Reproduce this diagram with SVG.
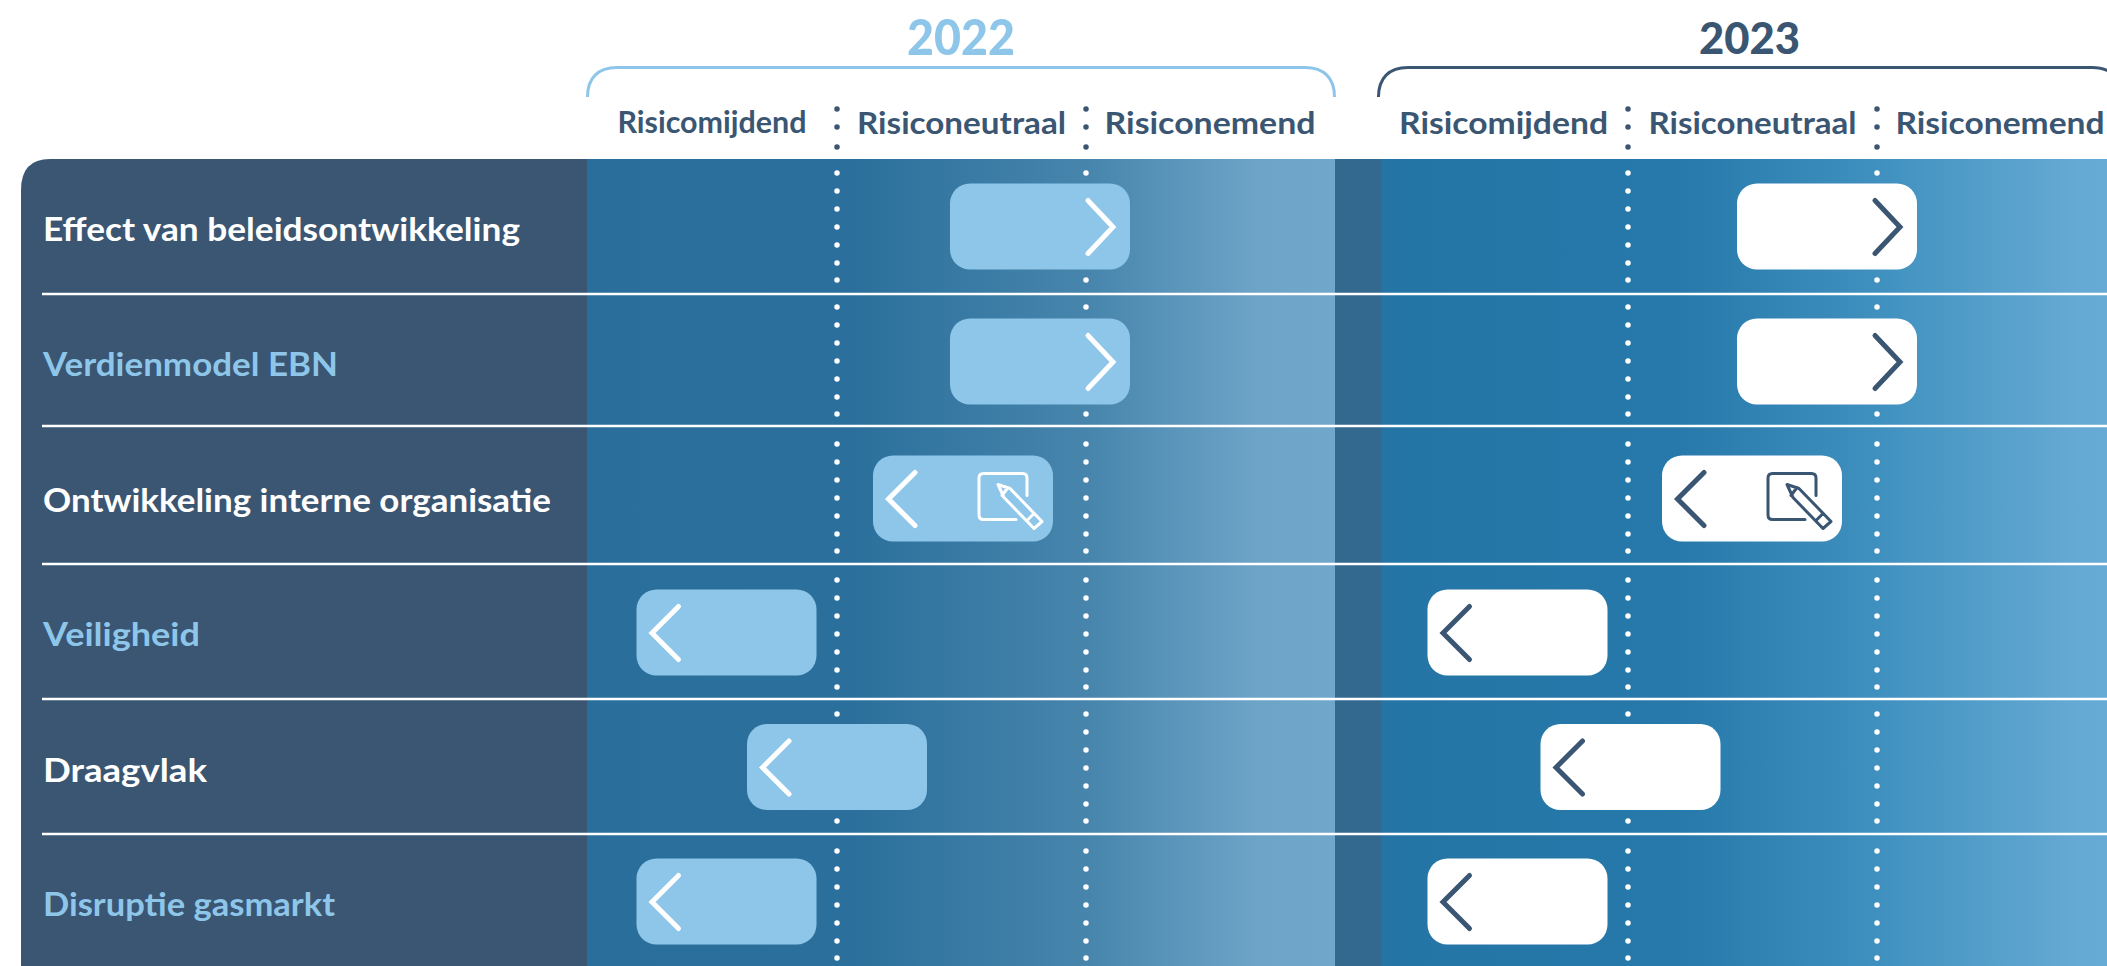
<svg xmlns="http://www.w3.org/2000/svg" width="2107" height="966" viewBox="0 0 2107 966">
<style>
text{font-family:"Lato","Open Sans","Liberation Sans",sans-serif;font-weight:700}
.y{font-size:50px;font-weight:900}
.h{font-size:30px;fill:#3a5672}
.l{font-size:33px}
.w{fill:#fff}
.b{fill:#8ec6ea}
.sep{stroke:#fff;stroke-width:2.5}
.dots{fill:none;stroke:#fff;stroke-width:5.5;stroke-linecap:round}
.dd{fill:none;stroke:#3a5672;stroke-width:5.5;stroke-linecap:round}
.c{fill:none;stroke-width:5;stroke-linecap:round;stroke-linejoin:miter}
.bar22{fill:#8ec6ea}
.bar23{fill:#fff}
.s22{stroke:#fff}
.s23{stroke:#3a5672}
.i{fill:none;stroke-width:3;stroke-linecap:round;stroke-linejoin:round}
</style>
<defs>
<linearGradient id="g22" gradientUnits="userSpaceOnUse" x1="587" y1="0" x2="1335" y2="0">
<stop offset="0" stop-color="#2a6f9b"/><stop offset="0.36" stop-color="#2b709c"/><stop offset="0.67" stop-color="#4785ac"/><stop offset="0.89" stop-color="#6ca3c7"/><stop offset="1" stop-color="#70a7cb"/>
</linearGradient>
<linearGradient id="g23" gradientUnits="userSpaceOnUse" x1="1381" y1="0" x2="2107" y2="0">
<stop offset="0" stop-color="#2475a6"/><stop offset="0.41" stop-color="#2679aa"/><stop offset="0.68" stop-color="#3f90bf"/><stop offset="0.96" stop-color="#65aad4"/><stop offset="1" stop-color="#66abd5"/>
</linearGradient>
<path id="cr" d="M138 17L163 43.500L138 70"/>
<path id="cl" d="M42 17L15.500 43.500L42 70"/>
<g id="ed">
<path d="M154 40V22.500Q154 18 149.500 18H110.500Q106 18 106 22.500V59.500Q106 64 110.500 64H143"/>
<path d="M125 29L137 33L169 66L161 73L131 42ZM135 32L129 40M161 58L154 65"/>
</g>
</defs>
<g id="year-2022">
<text class="y" x="961" y="55" text-anchor="middle" fill="#8ec6ea" textLength="108" lengthAdjust="spacingAndGlyphs">2022</text>
<path d="M587.500 97C587.500 78 598 67.500 617 67.500H1305C1324 67.500 1334.500 78 1334.500 97" fill="none" stroke="#8ec6ea" stroke-width="3"/>
<text class="h" x="617.500" y="133" textLength="189" lengthAdjust="spacingAndGlyphs">Risicomijdend</text>
<text class="h" x="857" y="134" textLength="209" lengthAdjust="spacingAndGlyphs">Risiconeutraal</text>
<text class="h" x="1104.500" y="134" textLength="211" lengthAdjust="spacingAndGlyphs">Risiconemend</text>
</g>
<g id="year-2023">
<text class="y" x="1749.500" y="54" text-anchor="middle" fill="#3a5672" style="font-size:43px" textLength="101" lengthAdjust="spacingAndGlyphs">2023</text>
<path d="M1378.500 97C1378.500 78 1389 67.500 1408 67.500H2092C2111 67.500 2122 78 2122 97" fill="none" stroke="#3a5672" stroke-width="3"/>
<text class="h" x="1399" y="134" textLength="209" lengthAdjust="spacingAndGlyphs">Risicomijdend</text>
<text class="h" x="1648.500" y="134" textLength="208" lengthAdjust="spacingAndGlyphs">Risiconeutraal</text>
<text class="h" x="1895.500" y="134" textLength="209" lengthAdjust="spacingAndGlyphs">Risiconemend</text>
</g>
<g id="header-dots">
<path class="dd" d="M837 109h0M837 127h0M837 147h0M1086 109h0M1086 127h0M1086 147h0M1628 109h0M1628 127h0M1628 147h0M1877 109h0M1877 127h0M1877 147h0"/>
</g>
<g id="bands">
<path d="M587 159H50Q21 159 21 190V966H587Z" fill="#3a5672"/>
<rect x="587" y="159" width="748" height="807" fill="url(#g22)"/>
<rect x="1335" y="159" width="46" height="807" fill="#33688f"/>
<rect x="1381" y="159" width="726" height="807" fill="url(#g23)"/>
</g>
<g id="grid">
<path id="d1" class="dots" d="M837 173h0m0 18h0m0 18h0m0 18h0m0 18h0m0 18h0m0 17h0M837 307h0m0 18h0m0 18h0m0 18h0m0 18h0m0 18h0m0 17h0M837 444h0m0 18h0m0 18h0m0 18h0m0 18h0m0 18h0m0 17h0M837 580h0m0 18h0m0 18h0m0 18h0m0 18h0m0 18h0m0 17h0M837 714h0m0 18h0m0 18h0m0 18h0m0 18h0m0 18h0m0 17h0M837 851h0m0 18h0m0 18h0m0 18h0m0 18h0m0 18h0m0 17h0"/>
<use href="#d1" x="249"/><use href="#d1" x="791"/><use href="#d1" x="1040"/>
<path class="sep" d="M42 294H2107M42 426H2107M42 564H2107M42 699H2107M42 834H2107"/>
</g>
<g id="row-1">
<text class="l w" x="43" y="241" textLength="477" lengthAdjust="spacingAndGlyphs">Effect van beleidsontwikkeling</text>
<g transform="translate(950 183.500)"><rect class="bar22" width="180" height="86" rx="20"/><use href="#cr" class="c s22"/></g>
<g transform="translate(1737 183.500)"><rect class="bar23" width="180" height="86" rx="20"/><use href="#cr" class="c s23"/></g>
</g>
<g id="row-2">
<text class="l b" x="43" y="376" textLength="295" lengthAdjust="spacingAndGlyphs">Verdienmodel EBN</text>
<g transform="translate(950 318.500)"><rect class="bar22" width="180" height="86" rx="20"/><use href="#cr" class="c s22"/></g>
<g transform="translate(1737 318.500)"><rect class="bar23" width="180" height="86" rx="20"/><use href="#cr" class="c s23"/></g>
</g>
<g id="row-3">
<text class="l w" x="43" y="512" textLength="508" lengthAdjust="spacingAndGlyphs">Ontwikkeling interne organisatie</text>
<g transform="translate(873 455.500)"><rect class="bar22" width="180" height="86" rx="20"/><use href="#cl" class="c s22"/><use href="#ed" class="i s22"/></g>
<g transform="translate(1662 455.500)"><rect class="bar23" width="180" height="86" rx="20"/><use href="#cl" class="c s23"/><use href="#ed" class="i s23"/></g>
</g>
<g id="row-4">
<text class="l b" x="43" y="646" textLength="157" lengthAdjust="spacingAndGlyphs">Veiligheid</text>
<g transform="translate(636.500 589.500)"><rect class="bar22" width="180" height="86" rx="20"/><use href="#cl" class="c s22"/></g>
<g transform="translate(1427.500 589.500)"><rect class="bar23" width="180" height="86" rx="20"/><use href="#cl" class="c s23"/></g>
</g>
<g id="row-5">
<text class="l w" x="43" y="782" textLength="164" lengthAdjust="spacingAndGlyphs">Draagvlak</text>
<g transform="translate(747 724)"><rect class="bar22" width="180" height="86" rx="20"/><use href="#cl" class="c s22"/></g>
<g transform="translate(1540.500 724)"><rect class="bar23" width="180" height="86" rx="20"/><use href="#cl" class="c s23"/></g>
</g>
<g id="row-6">
<text class="l b" x="43" y="916" textLength="292" lengthAdjust="spacingAndGlyphs">Disruptie gasmarkt</text>
<g transform="translate(636.500 858.500)"><rect class="bar22" width="180" height="86" rx="20"/><use href="#cl" class="c s22"/></g>
<g transform="translate(1427.500 858.500)"><rect class="bar23" width="180" height="86" rx="20"/><use href="#cl" class="c s23"/></g>
</g>
</svg>
